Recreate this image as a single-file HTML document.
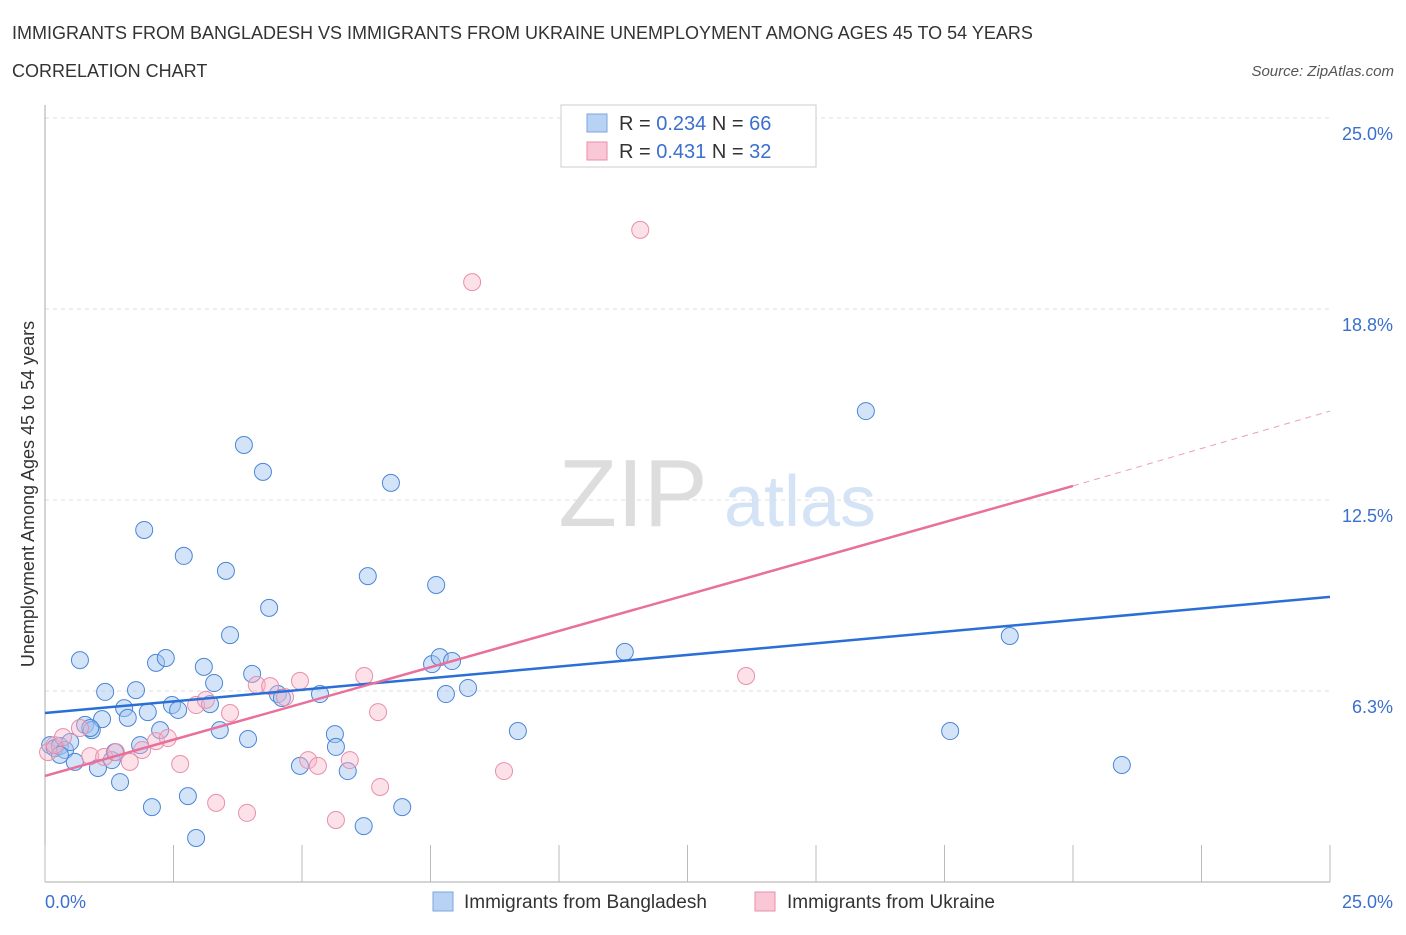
<!DOCTYPE html>
<html><head><meta charset="utf-8"><style>
body{margin:0;background:#fff;font-family:"Liberation Sans",sans-serif}
svg text{font-family:"Liberation Sans",sans-serif}
</style></head><body>
<svg id="c" width="1406" height="930">
<text x="12" y="39" font-size="18" fill="#333">IMMIGRANTS FROM BANGLADESH VS IMMIGRANTS FROM UKRAINE UNEMPLOYMENT AMONG AGES 45 TO 54 YEARS</text>
<text x="12" y="77" font-size="18" fill="#333">CORRELATION CHART</text>
<text x="1394" y="76" font-size="15" fill="#555" font-style="italic" text-anchor="end">Source: ZipAtlas.com</text>
<g><text x="633" y="526" font-size="96" fill="#ddd" font-family="Liberation Serif" text-anchor="middle">ZIP</text><text x="800" y="526" font-size="72" fill="#d4e3f5" text-anchor="middle">atlas</text></g>
<g id="grid"></g><g id="marks"></g>
<text transform="translate(34,494) rotate(-90)" font-size="18" fill="#333" text-anchor="middle">Unemployment Among Ages 45 to 54 years</text>
<g>
<rect x="561" y="105" width="255" height="62" fill="#fff" stroke="#ccc"/>
<rect x="587" y="114" width="20" height="18" fill="#b8d2f3" stroke="#7aa6e0"/>
<text x="619" y="130" font-size="20" fill="#333">R = <tspan fill="#3a6fcf">0.234</tspan>   N = <tspan fill="#3a6fcf">66</tspan></text>
<rect x="587" y="142" width="20" height="18" fill="#f9c7d6" stroke="#e88fab"/>
<text x="619" y="158" font-size="20" fill="#333">R =  <tspan fill="#3a6fcf">0.431</tspan>   N = <tspan fill="#3a6fcf">32</tspan></text>
</g>
<g>
<rect x="433" y="892" width="20" height="19" fill="#b8d2f3" stroke="#7aa6e0"/>
<text x="464" y="908" font-size="19" fill="#333">Immigrants from Bangladesh</text>
<rect x="755" y="892" width="20" height="19" fill="#f9c7d6" stroke="#e88fab"/>
<text x="787" y="908" font-size="19" fill="#333">Immigrants from Ukraine</text>
</g>
</svg>
<script>
const yTicks=[6.25,12.5,18.75,25];
const yTickLabels=["6.3%","12.5%","18.8%","25.0%"];
const xTickVals=[0,2.5,5,7.5,10,12.5,15,17.5,20,22.5,25];
const blueX=[0.10,0.19,0.29,0.39,0.49,0.58,0.68,0.78,0.91,1.03,1.11,1.17,1.30,1.36,1.46,1.54,1.61,1.77,1.85,1.93,2.00,2.08,2.16,2.24,2.35,2.47,2.59,2.70,2.78,2.94,3.09,3.21,3.29,3.40,3.52,3.60,3.87,3.95,4.03,4.24,4.36,4.53,4.61,4.96,5.35,5.64,5.66,5.89,6.20,6.28,6.73,6.95,7.53,7.61,7.68,7.80,7.92,8.23,9.20,11.28,15.97,17.61,18.77,20.95,0.29,0.88];
const blueY=[4.48,4.38,4.45,4.32,4.58,3.93,7.26,5.14,4.97,3.73,5.33,6.22,3.99,4.25,3.27,5.69,5.37,6.28,4.48,11.52,5.56,2.45,7.17,4.97,7.33,5.79,5.63,10.67,2.81,1.44,7.04,5.82,6.51,4.97,10.18,8.08,14.30,4.68,6.81,13.42,8.97,6.15,6.02,3.80,6.15,4.84,4.42,3.63,1.83,10.01,13.06,2.45,7.13,9.72,7.36,6.15,7.23,6.35,4.94,7.53,15.41,4.94,8.05,3.83,4.16,5.04];
const pinkX=[0.06,0.19,0.35,0.68,0.88,1.15,1.38,1.65,1.89,2.16,2.39,2.63,2.94,3.13,3.33,3.60,3.93,4.12,4.38,4.67,4.96,5.12,5.31,5.66,5.93,6.21,6.48,6.52,8.31,8.93,11.58,13.64];
const pinkY=[4.25,4.48,4.74,5.04,4.12,4.09,4.25,3.93,4.32,4.61,4.71,3.86,5.79,5.96,2.59,5.53,2.26,6.45,6.41,6.05,6.58,3.99,3.80,2.03,3.99,6.74,5.56,3.11,19.63,3.63,21.34,6.74];
const blueTrend=[5.53,9.33];
const pinkTrend=[3.47,12.96,15.41];
const X=v=>45+v/25*1285, Y=v=>882-v/6.25*191;
const NS="http://www.w3.org/2000/svg";
function mk(t,a,p){const e=document.createElementNS(NS,t);for(const k in a)e.setAttribute(k,a[k]);p.appendChild(e);return e;}
const g=document.getElementById('grid'),m=document.getElementById('marks');
yTicks.forEach((t,i)=>{const l=mk('line',{x1:45,x2:1330,y1:Y(t),y2:Y(t),stroke:'#ddd','stroke-dasharray':'4,4'},g);


const tx=mk('text',{x:1393,y:Y(t)+22,'font-size':18,fill:'#3a6fcf','text-anchor':'end'},g);tx.textContent=yTickLabels[i];

});
let ax=mk('line',{x1:45,x2:45,y1:105,y2:882,stroke:'#aaa'},g);


ax=mk('line',{x1:45,x2:1330,y1:882,y2:882,stroke:'#aaa'},g);


xTickVals.forEach(v=>{const l=mk('line',{x1:X(v),x2:X(v),y1:845,y2:882,stroke:'#bbb'},g);

});
let t=mk('text',{x:45,y:908,'font-size':18,fill:'#3a6fcf'},g);t.textContent='0.0%';


t=mk('text',{x:1393,y:908,'font-size':18,fill:'#3a6fcf','text-anchor':'end'},g);t.textContent='25.0%';


blueX.forEach((v,i)=>{const c=mk('circle',{cx:X(v),cy:Y(blueY[i]),r:8.5,fill:'rgba(160,196,240,0.45)',stroke:'#4a86d8','stroke-width':1},m);

});
pinkX.forEach((v,i)=>{const c=mk('circle',{cx:X(v),cy:Y(pinkY[i]),r:8.5,fill:'rgba(248,180,200,0.4)',stroke:'#e88fab','stroke-width':1},m);

});
let l=mk('line',{x1:X(0),y1:Y(blueTrend[0]),x2:X(25),y2:Y(blueTrend[1]),stroke:'#2a6fd6','stroke-width':2.5},m);


l=mk('line',{x1:X(0),y1:Y(pinkTrend[0]),x2:X(20),y2:Y(pinkTrend[1]),stroke:'#e8709a','stroke-width':2.5},m);


l=mk('line',{x1:X(20),y1:Y(pinkTrend[1]),x2:X(25),y2:Y(pinkTrend[2]),stroke:'#e8a0b8','stroke-width':1,'stroke-dasharray':'6,5'},m);


</script>
</body></html>
